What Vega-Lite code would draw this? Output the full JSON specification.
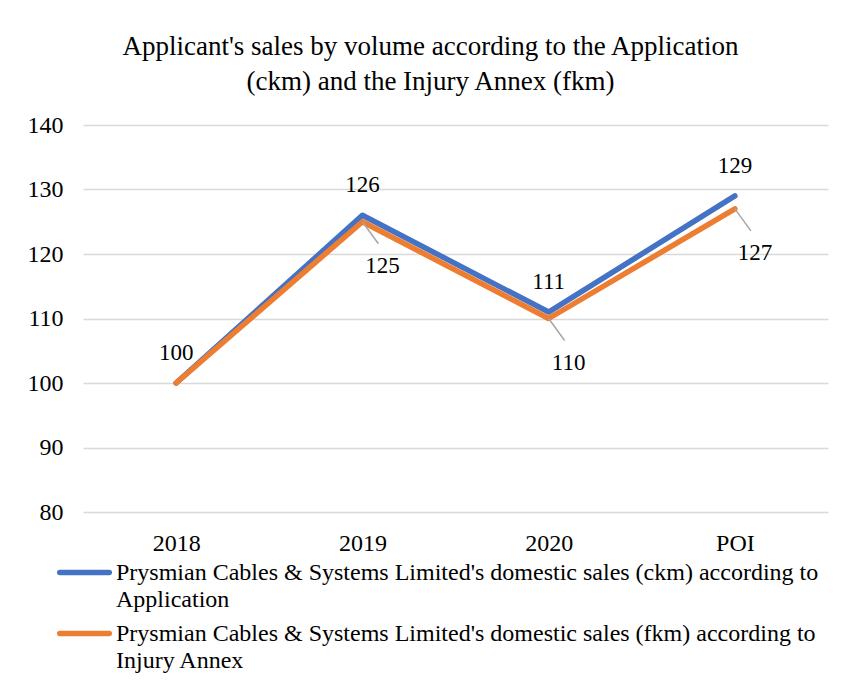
{
  "$schema": "https://vega.github.io/schema/vega-lite/v6.json",
  "width": 745,
  "height": 387,
  "autosize": "none",
  "padding": {"left": 83, "top": 125, "right": 17, "bottom": 174},
  "background": "white",
  "config": {
    "font": "Liberation Serif",
    "view": {"stroke": null}
  },
  "title": {
    "text": ["Applicant's sales by volume according to the Application", "(ckm) and the Injury Annex (fkm)"],
    "fontSize": 27,
    "fontWeight": "normal",
    "font": "Liberation Serif",
    "color": "#000000",
    "lineHeight": 35,
    "anchor": "middle",
    "dx": -25,
    "offset": 17
  },
  "data": {
    "values": [
      {"year": "2018", "series": "Prysmian Cables & Systems Limited's domestic sales (ckm) according to Application", "value": 100},
      {"year": "2019", "series": "Prysmian Cables & Systems Limited's domestic sales (ckm) according to Application", "value": 126},
      {"year": "2020", "series": "Prysmian Cables & Systems Limited's domestic sales (ckm) according to Application", "value": 111},
      {"year": "POI", "series": "Prysmian Cables & Systems Limited's domestic sales (ckm) according to Application", "value": 129},
      {"year": "2018", "series": "Prysmian Cables & Systems Limited's domestic sales (fkm) according to Injury Annex", "value": 100},
      {"year": "2019", "series": "Prysmian Cables & Systems Limited's domestic sales (fkm) according to Injury Annex", "value": 125},
      {"year": "2020", "series": "Prysmian Cables & Systems Limited's domestic sales (fkm) according to Injury Annex", "value": 110},
      {"year": "POI", "series": "Prysmian Cables & Systems Limited's domestic sales (fkm) according to Injury Annex", "value": 127}
    ]
  },
  "encoding": {
    "x": {
      "field": "year",
      "type": "ordinal",
      "sort": ["2018", "2019", "2020", "POI"],
      "scale": {"type": "point", "padding": 0.5},
      "axis": {
        "title": null,
        "labelAngle": 0,
        "labelFontSize": 24,
        "labelColor": "#000000",
        "labelPadding": 19,
        "domain": false,
        "ticks": false,
        "grid": false
      }
    },
    "y": {
      "field": "value",
      "type": "quantitative",
      "scale": {"domain": [80, 140], "nice": false, "zero": false},
      "axis": {
        "title": null,
        "values": [80, 90, 100, 110, 120, 130, 140],
        "labelFontSize": 24,
        "labelColor": "#000000",
        "labelPadding": 20,
        "domain": false,
        "ticks": false,
        "gridColor": "#D9D9D9",
        "gridWidth": 1.5
      }
    }
  },
  "layer": [
    {
      "mark": {"type": "line", "strokeWidth": 5.5, "strokeCap": "round", "strokeJoin": "round"},
      "encoding": {
        "color": {
          "field": "series",
          "type": "nominal",
          "scale": {
            "domain": [
              "Prysmian Cables & Systems Limited's domestic sales (ckm) according to Application",
              "Prysmian Cables & Systems Limited's domestic sales (fkm) according to Injury Annex"
            ],
            "range": ["#4472C4", "#ED7D31"]
          },
          "legend": {
            "title": null,
            "orient": "none",
            "legendX": -14,
            "legendY": 432,
            "padding": 0,
            "direction": "vertical",
            "symbolType": "M-2,0L2,0",
            "symbolStrokeWidth": 5.5,
            "symbolSize": 612,
            "labelFontSize": 24,
            "labelColor": "#000000",
            "labelFont": "Liberation Serif",
            "labelLimit": 1000,
            "labelOffset": 16,
            "labelBaseline": "middle",
            "labelExpr": "split(replace(datum.label, 'according to ', 'according to|'), '|')",
            "rowPadding": 6,
            "encode": {
              "labels": {"update": {"lineHeight": {"value": 27}}},
              "symbols": {"update": {"strokeCap": {"value": "round"}}}
            }
          }
        }
      }
    },
    {
      "transform": [{"filter": "indexof(datum.series, '(ckm)') >= 0"}],
      "mark": {"type": "text", "dy": -30, "fontSize": 23, "color": "#000000"},
      "encoding": {"text": {"field": "value", "type": "quantitative"}}
    },
    {
      "transform": [{"filter": "indexof(datum.series, '(fkm)') >= 0 && datum.year != '2018'"}],
      "mark": {"type": "rule", "color": "#A6A6A6", "strokeWidth": 1.5, "x2Offset": 16, "y2Offset": 22},
      "encoding": {
        "x2": {"field": "year"},
        "y2": {"field": "value"}
      }
    },
    {
      "transform": [{"filter": "indexof(datum.series, '(fkm)') >= 0 && datum.year != '2018'"}],
      "mark": {"type": "text", "dx": 20, "dy": 44, "fontSize": 23, "color": "#000000"},
      "encoding": {"text": {"field": "value", "type": "quantitative"}}
    }
  ]
}
